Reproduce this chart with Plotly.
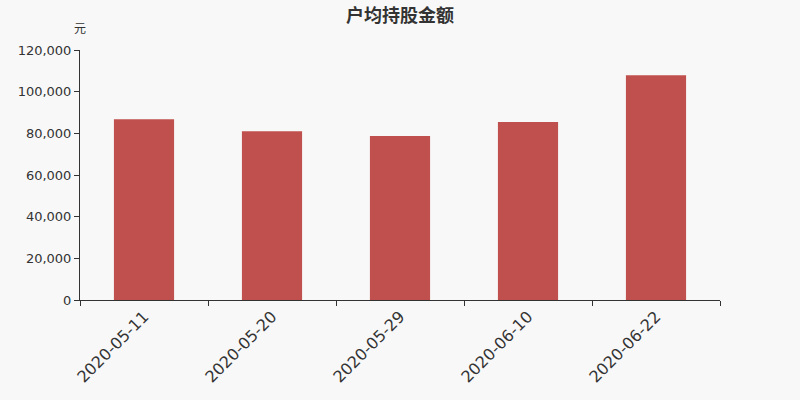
import plotly.graph_objects as go

# datos
fechas = ["2020-05-11", "2020-05-20", "2020-05-29", "2020-06-10", "2020-06-22"]
monto_promedio = [86800, 81000, 78700, 85400, 107900]

fig = go.Figure()

fig.add_trace(go.Bar(
    x=fechas,
    y=monto_promedio,
    marker=dict(color="#c0504d", line=dict(width=0)),
    width=0.47,
))

fig.update_xaxes(
    type="category",
    tickangle=-45,
    tickfont=dict(size=16, color="#333333"),
    showline=True,
    linecolor="#333333",
    linewidth=1,
    ticks="outside",
    tickson="boundaries",
    ticklen=5,
    tickcolor="#333333",
    showgrid=False,
)

fig.update_yaxes(
    range=[0, 120000],
    dtick=20000,
    tickformat=",d",
    tickfont=dict(size=13, color="#333333"),
    showline=True,
    linecolor="#333333",
    linewidth=1,
    ticks="outside",
    ticklen=5,
    tickcolor="#333333",
    showgrid=False,
    zeroline=False,
)

fig.add_annotation(
    text="元", xref="paper", yref="paper", x=0, y=1.088,
    xanchor="center", yanchor="middle", showarrow=False,
    font=dict(size=12, color="#333333", family="Noto Sans CJK SC"),
)

fig.update_layout(
    width=800,
    height=400,
    title=dict(
        text="<b>户均持股金额</b>",
        x=0.5, xanchor="center", y=0.962, yanchor="middle",
        font=dict(size=18, color="#333333", family="Noto Sans CJK SC"),
    ),
    font=dict(family="DejaVu Sans"),
    paper_bgcolor="#f8f8f8",
    plot_bgcolor="#f8f8f8",
    margin=dict(l=80, r=80, t=50, b=100),
    showlegend=False,
)

# quitar el margen del body para que el gráfico quede en (0,0)
fig.write_html(
    "out.html",
    config={"displayModeBar": False},
    post_script="document.body.style.margin='0';document.body.style.background='#f8f8f8';",
)
